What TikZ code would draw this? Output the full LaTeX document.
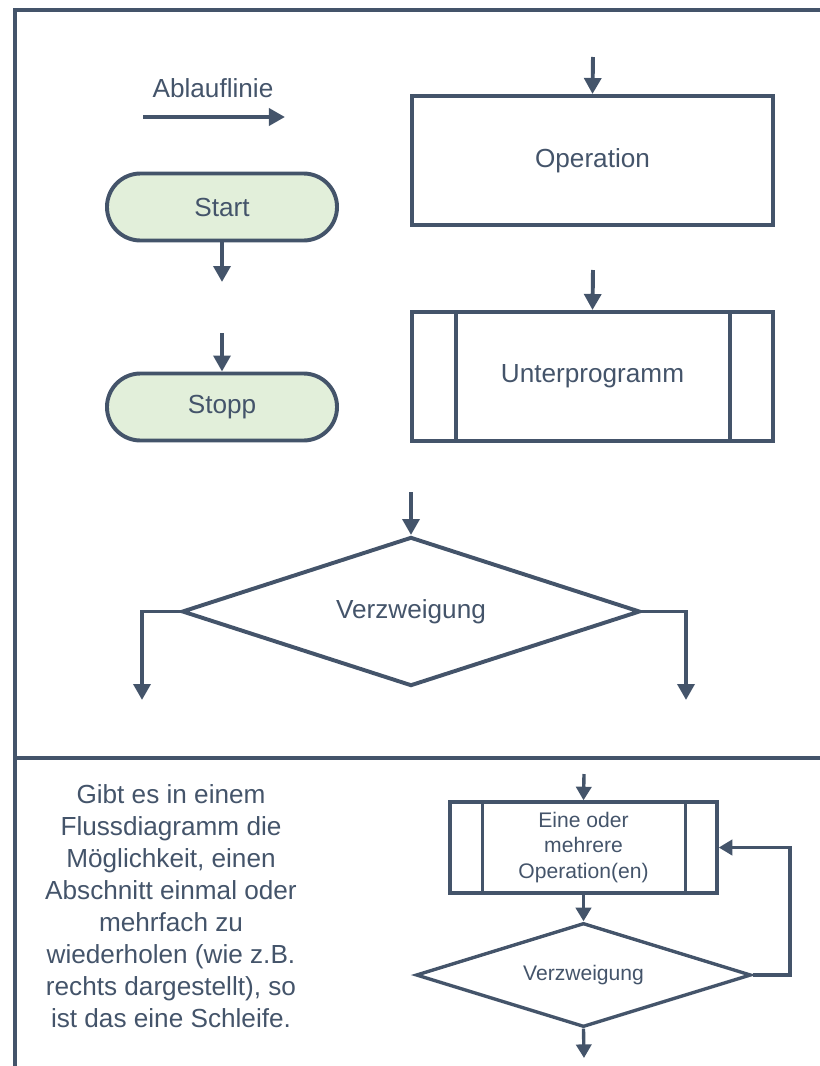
\documentclass[tikz,border=0pt]{standalone}
\usepackage{fontspec}
\setmainfont{Liberation Sans}
\usetikzlibrary{arrows.meta, shapes.geometric, calc}

\definecolor{linie}{HTML}{44546A}
\definecolor{gruen}{HTML}{E2EFDA}

\begin{document}
\begin{tikzpicture}[
    x=0.025cm, y=-0.025cm,
    color=linie,
    font=\fontsize{18.6}{22.7}\selectfont,
    rahmen/.style={draw, line width=3pt},
    kasten/.style={draw, line width=2.8pt, inner sep=0pt,
                   minimum width=9.025cm, minimum height=3.225cm},
    terminal/.style={draw, line width=2.8pt, fill=gruen,
                     rounded corners=0.8375cm, minimum width=5.75cm,
                     minimum height=1.675cm},
    raute/.style={diamond, draw, line width=2.8pt, inner sep=0pt, aspect=3},
    pfeil/.style={line width=2.8pt, -{Triangle[length=4mm, width=4.2mm]}},
    klein/.style={font=\fontsize{15}{18.4}\selectfont},
    pfeilk/.style={line width=2.4pt, -{Triangle[length=3.4mm, width=3.8mm]}}
  ]
  \useasboundingbox (0,0) rectangle (820,1066);

  % --- Rahmen ---
  \draw[rahmen] (15,1066) -- (15,10) -- (820,10);
  \draw[rahmen] (15,758) -- (820,758);

  % --- Ablauflinie ---
  \node (ablauf) at (213,88) {Ablauflinie};
  \coordinate (alanf) at (143,117);
  \coordinate (alend) at (285,117);
  \draw[pfeil] (alanf) -- (alend);

  % --- Start / Stopp ---
  \node[terminal] (start) at (222,207) {Start};
  \coordinate (startaus) at (222,282);
  \draw[pfeil] (start.south) -- (startaus);

  \node[terminal] (stopp) at (222,407) {Stopp};
  \coordinate (stoppein) at (222,333);
  \draw[pfeil] (stoppein) -- (stopp.north);

  % --- Operation ---
  \node[kasten] (op) at (592.5,160.5) {Operation};
  \coordinate (opein) at (593,57);
  \draw[pfeil] (opein) -- (op.north);

  % --- Unterprogramm ---
  \node[kasten] (up) at (592.5,376.5) {Unterprogramm};
  \draw[line width=2.8pt] ([xshift=1.15cm]up.north west)
        -- ([xshift=1.15cm]up.south west);
  \draw[line width=2.8pt] ([xshift=-1.125cm]up.north east)
        -- ([xshift=-1.125cm]up.south east);
  \coordinate (upein) at (593,270);
  \draw[pfeil] (upein) -- (up.north);

  % --- Verzweigung ---
  \node[raute, minimum width=11.45cm, minimum height=3.725cm]
       (vz) at (411,611.5) {Verzweigung};
  \coordinate (vzein) at (411,492);
  \coordinate (vzlinks) at (142,700);
  \coordinate (vzrechts) at (686,700);
  \draw[pfeil] (vzein) -- (vz.north);
  \draw[pfeil] (vz.west) -| (vzlinks);
  \draw[pfeil] (vz.east) -| (vzrechts);

  % --- Schleife ---
  \node[align=center] (text) at (171,906)
       {Gibt es in einem\\Flussdiagramm die\\M\"oglichkeit, einen\\
        Abschnitt einmal oder\\mehrfach zu\\wiederholen (wie z.B.\\
        rechts dargestellt), so\\ist das eine Schleife.};

  \node[draw, line width=2.4pt, inner sep=0pt, minimum width=6.675cm,
        minimum height=2.275cm, klein, align=center]
       (up2) at (583.5,847.5) {Eine oder\\mehrere\\Operation(en)};
  \draw[line width=2.4pt] ([xshift=0.85cm]up2.north west)
        -- ([xshift=0.85cm]up2.south west);
  \draw[line width=2.4pt] ([xshift=-0.825cm]up2.north east)
        -- ([xshift=-0.825cm]up2.south east);
  \coordinate (up2ein) at (584,774);
  \draw[pfeilk] (up2ein) -- (up2.north);

  \node[raute, line width=2.4pt, minimum width=8.375cm,
        minimum height=2.6cm, klein] (vz2) at (583.5,975) {Verzweigung};
  \draw[pfeilk] (up2.south) -- (vz2.north);
  \coordinate (vz2aus) at (584,1058);
  \draw[pfeilk] (vz2.south) -- (vz2aus);
  \coordinate (rueck) at (790,975);
  \draw[pfeilk] (vz2.east) -- (rueck) |- (up2.east);
\end{tikzpicture}
\end{document}
